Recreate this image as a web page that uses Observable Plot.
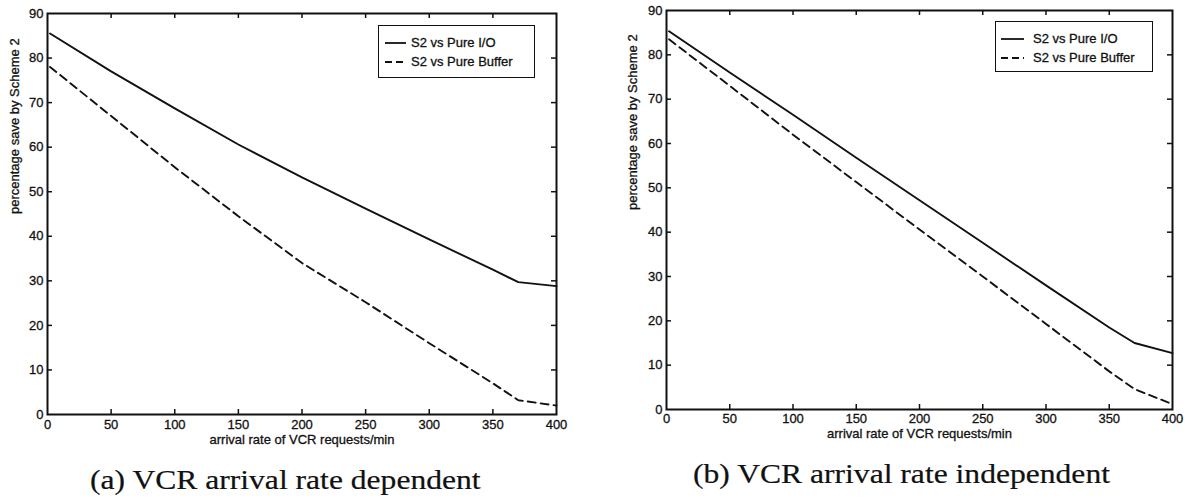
<!DOCTYPE html>
<html>
<head>
<meta charset="utf-8">
<script src="https://cdn.jsdelivr.net/npm/d3@7"></script>
<script src="https://cdn.jsdelivr.net/npm/@observablehq/plot@0.6"></script>
<style>
  body { margin: 0; background: #fff; }
  #fig { position: relative; width: 1188px; height: 500px; overflow: hidden;
         font-family: "Liberation Sans", Arial, sans-serif; color: #111; }
  .panel { position: absolute; top: 0; }
  .panel svg text { stroke: #111; stroke-width: 0.3px; }
  .legend { position: absolute; background: #fff; border: 1.5px solid #111; box-sizing: border-box;
            font-size: 13px; line-height: 13px; color: #111; -webkit-text-stroke: 0.3px #111; }
  .legend .row { position: absolute; left: 0; height: 14px; white-space: nowrap; }
  .legend svg { position: absolute; top: 0; overflow: visible; }
  .legend span { position: absolute; top: 0; }
  .caption { position: absolute; font-family: "Liberation Serif", serif; font-size: 27px;
             line-height: 27px; color: #111; white-space: nowrap;
             transform: scaleX(1.17); transform-origin: 0 0;
             -webkit-text-stroke: 0.2px #111; }
</style>
</head>
<body>
<div id="fig"></div>
<script>
// arrival rate of VCR requests per minute
const rate = [2, 50, 100, 150, 200, 250, 300, 350, 370, 400];

// (a) arrival-rate dependent: percentage saved by Scheme 2
const depVsPureIO     = [85.5, 77, 68.7, 60.6, 53.2, 46.2, 39.3, 32.5, 29.7, 28.8];
const depVsPureBuffer = [78, 67, 55.5, 44.5, 34, 25.2, 16, 7, 3.2, 2];

// (b) arrival-rate independent: percentage saved by Scheme 2
const indVsPureIO     = [85.3, 76, 66.5, 56.8, 47.2, 37.6, 28, 18.5, 15, 12.7];
const indVsPureBuffer = [83.5, 73, 62, 51.3, 40.6, 30, 19.3, 8.6, 4.6, 1.2];

const seriesNames = ["S2 vs Pure I/O", "S2 vs Pure Buffer"];
const xTicks = [0, 50, 100, 150, 200, 250, 300, 350, 400];
const yTicks = [0, 10, 20, 30, 40, 50, 60, 70, 80, 90];
const xLabel = "arrival rate of VCR requests/min";
const yLabel = "percentage save by Scheme 2";
const captions = ["(a) VCR arrival rate dependent", "(b) VCR arrival rate independent"];

const INK = "#111";
const DASH = "8,5";

function panel(io, buf, L) {
  const iw = L.width - L.ml - L.mr;
  const ih = L.height - L.mt - L.mb;
  const tick = 5;
  return Plot.plot({
    width: L.width,
    height: L.height,
    marginLeft: L.ml, marginRight: L.mr, marginTop: L.mt, marginBottom: L.mb,
    style: { fontFamily: "'Liberation Sans', Arial, sans-serif", fontSize: "13px", color: INK, background: "transparent" },
    x: { domain: [0, 400] },
    y: { domain: [0, 90] },
    marks: [
      // inward ticks on all four sides of the box
      Plot.tickX(xTicks.slice(1, -1), { x: d => d, stroke: INK, strokeWidth: 1.5, insetTop: ih - tick }),
      Plot.tickX(xTicks.slice(1, -1), { x: d => d, stroke: INK, strokeWidth: 1.5, insetBottom: ih - tick }),
      Plot.tickY(yTicks.slice(1, -1), { y: d => d, stroke: INK, strokeWidth: 1.5, insetRight: iw - tick }),
      Plot.tickY(yTicks.slice(1, -1), { y: d => d, stroke: INK, strokeWidth: 1.5, insetLeft: iw - tick }),
      Plot.axisX(xTicks, { tickSize: 0, tickPadding: L.xpad, label: null, fill: INK }),
      Plot.axisY(yTicks, { tickSize: 0, tickPadding: 4, label: null, fill: INK }),
      Plot.line(io,  { x: (d, i) => rate[i], y: d => d, stroke: INK, strokeWidth: 1.9 }),
      Plot.line(buf, { x: (d, i) => rate[i], y: d => d, stroke: INK, strokeWidth: 1.9, strokeDasharray: DASH }),
      Plot.frame({ stroke: INK, strokeWidth: 2 }),
      Plot.text([xLabel], { text: d => d, frameAnchor: "bottom", dy: L.xlab, fill: INK }),
      Plot.text([yLabel], { text: d => d, frameAnchor: "left", dx: L.ylab, rotate: -90, fill: INK })
    ]
  });
}

const fig = document.getElementById("fig");

const layouts = [
  { left: 0,   width: 594, height: 450, ml: 47, mr: 38, mt: 13, mb: 36, xpad: 5, xlab: 29, ylab: -33,
    io: depVsPureIO, buf: depVsPureBuffer,
    legend: { x: 378, y: 25, w: 157, h: 53, sx: 384, sw: 21, tx: 410, r1: 42, r2: 61 },
    caption: { x: 90, top: 467 } },
  { left: 594, width: 594, height: 450, ml: 72, mr: 16, mt: 10, mb: 41, xpad: 4, xlab: 28, ylab: -34,
    io: indVsPureIO, buf: indVsPureBuffer,
    legend: { x: 995, y: 21, w: 158, h: 51, sx: 1000, sw: 23, tx: 1032, r1: 38, r2: 57 },
    caption: { x: 693, top: 461 } }
];

layouts.forEach((L, k) => {
  const wrap = document.createElement("div");
  wrap.className = "panel";
  wrap.style.left = L.left + "px";
  wrap.appendChild(panel(L.io, L.buf, L));
  fig.appendChild(wrap);

  // legend box
  const g = L.legend;
  const box = document.createElement("div");
  box.className = "legend";
  Object.assign(box.style, { left: g.x + "px", top: g.y + "px", width: g.w + "px", height: g.h + "px" });
  [g.r1, g.r2].forEach((ry, j) => {
    const row = document.createElement("div");
    row.className = "row";
    row.style.top = (ry - g.y - 7) + "px";
    const sample = `<svg width="${g.sw}" height="14" style="left:${g.sx - g.x}px">` +
      `<line x1="0" x2="${g.sw}" y1="7" y2="7" stroke="${INK}" stroke-width="1.8"` +
      (j ? ` stroke-dasharray="7,4"` : "") + `/></svg>`;
    row.innerHTML = sample + `<span style="left:${g.tx - g.x}px">${seriesNames[j]}</span>`;
    box.appendChild(row);
  });
  fig.appendChild(box);

  // caption below the panel
  const cap = document.createElement("div");
  cap.className = "caption";
  cap.textContent = captions[k];
  cap.style.left = L.caption.x + "px";
  cap.style.top = L.caption.top + "px";
  fig.appendChild(cap);
});
</script>
</body>
</html>
